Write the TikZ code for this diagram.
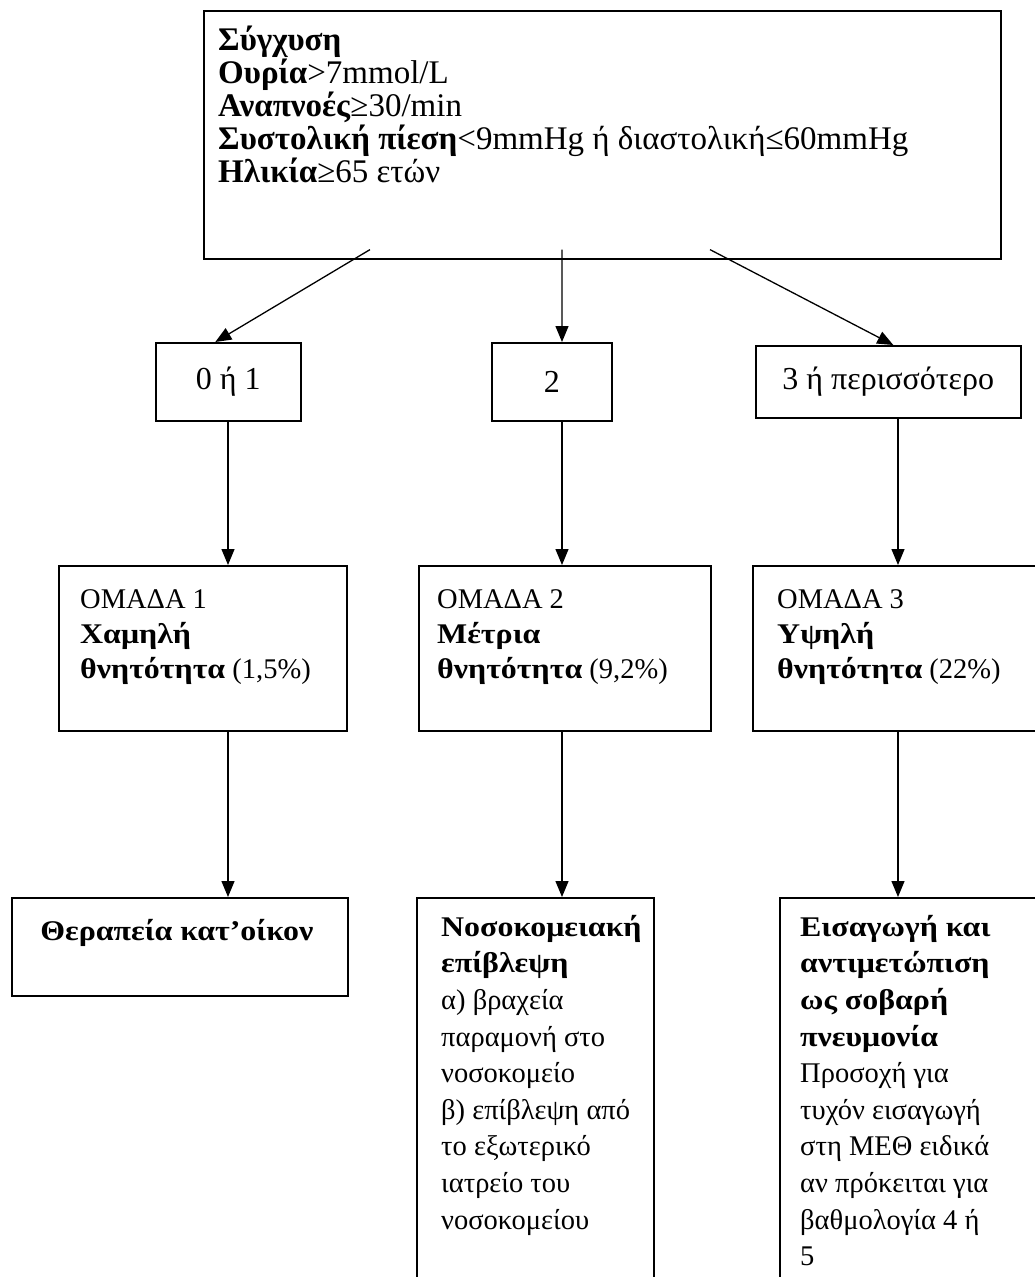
\documentclass[tikz,border=0pt]{standalone}
\usepackage{fontspec}
\setmainfont{Liberation Serif}
\usetikzlibrary{arrows.meta}
\newcommand\bx[1]{\textbf{\addfontfeature{FakeStretch=1.12}#1}}
\tikzset{
  box/.style={draw, line width=1.6bp, inner sep=0pt, anchor=north west},
  txt/.style 2 args={inner sep=0pt, anchor=north west, align=left, font=\fontsize{#1}{#2}\selectfont},
  ctxt/.style={inner sep=0pt, font=\fontsize{32bp}{33bp}\selectfont},
  arr/.style={line width=1.3bp, -{Triangle[length=16bp,width=13bp]}}
}
\begin{document}
\begin{tikzpicture}[x=1bp,y=-1bp]
\useasboundingbox (0,0) rectangle (1035,1277);
\clip (0,0) rectangle (1035,1277);
% boxes
\node[box, minimum width=797bp, minimum height=248bp] (top) at (203,10) {};
\node[box, minimum width=145bp, minimum height=78bp] (b1) at (155,342) {};
\node[box, minimum width=120bp, minimum height=78bp] (b2) at (491,342) {};
\node[box, minimum width=265bp, minimum height=72bp] (b3) at (755,345) {};
\node[box, minimum width=288bp, minimum height=165bp] (g1) at (58,565) {};
\node[box, minimum width=292bp, minimum height=165bp] (g2) at (418,565) {};
\node[box, minimum width=300bp, minimum height=165bp] (g3) at (752,565) {};
\node[box, minimum width=336bp, minimum height=98bp] (o1) at (11,897) {};
\node[box, minimum width=237bp, minimum height=420bp] (o2) at (416,897) {};
\node[box, minimum width=280bp, minimum height=420bp] (o3) at (779,897) {};
% texts
\node[txt={33bp}{33bp}] (ttop) at (218,26) {\textbf{Σύγχυση}\\
\textbf{Ουρία}>7mmol/L\\
\textbf{Αναπνοές}≥30/min\\
\textbf{Συστολική πίεση}<9mmHg ή διαστολική≤60mmHg\\
\textbf{Ηλικία}≥65 ετών};
\node[ctxt] (tb1) at (b1.center) {0 ή 1};
\node[ctxt] (tb2) at (b2.center) {2};
\node[ctxt] (tb3) at (b3.center) {3 ή περισσότερο};
\node[txt={28.5bp}{35bp}] (tg1) at (80,589) {ΟΜΑΔΑ 1\\ \bx{Χαμηλή}\\ \bx{θνητότητα} (1,5\%)};
\node[txt={28.5bp}{35bp}] (tg2) at (437,589) {ΟΜΑΔΑ 2\\ \bx{Μέτρια}\\ \bx{θνητότητα} (9,2\%)};
\node[txt={28.5bp}{35bp}] (tg3) at (777,589) {ΟΜΑΔΑ 3\\ \bx{Υψηλή}\\ \bx{θνητότητα} (22\%)};
\node[txt={28.5bp}{36.6bp}, anchor=north] (to1) at ([xshift=-3bp,yshift=-22bp]o1.north) {\bx{Θεραπεία κατ’οίκον}};
\node[txt={28.5bp}{36.6bp}] (to2) at (441,915) {\bx{Νοσοκομειακή}\\ \bx{επίβλεψη}\\ α) βραχεία\\ παραμονή στο\\ νοσοκομείο\\ β) επίβλεψη από\\ το εξωτερικό\\ ιατρείο του\\ νοσοκομείου};
\node[txt={28.5bp}{36.6bp}] (to3) at (800,915) {\bx{Εισαγωγή και}\\ \bx{αντιμετώπιση}\\ \bx{ως σοβαρή}\\ \bx{πνευμονία}\\ Προσοχή για\\ τυχόν εισαγωγή\\ στη ΜΕΘ ειδικά\\ αν πρόκειται για\\ βαθμολογία 4 ή\\ 5};
% columns
\coordinate (c1) at (228,0);
\coordinate (c2) at (562,0);
\coordinate (c3) at (898,0);
% arrows from top box
\coordinate (s1) at ([xshift=167bp,yshift=10bp]top.south west);
\coordinate (s2) at ([xshift=359bp,yshift=10bp]top.south west);
\coordinate (s3) at ([xshift=507bp,yshift=10bp]top.south west);
\draw[arr] (s1) -- ([xshift=-13bp]b1.north);
\draw[arr] (s2) -- (c2 |- b2.north);
\draw[arr] (s3) -- ([xshift=5bp]b3.north);
\draw[arr] (c1 |- b1.south) -- (c1 |- g1.north);
\draw[arr] (c2 |- b2.south) -- (c2 |- g2.north);
\draw[arr] (c3 |- b3.south) -- (c3 |- g3.north);
\draw[arr] (c1 |- g1.south) -- (c1 |- o1.north);
\draw[arr] (c2 |- g2.south) -- (c2 |- o2.north);
\draw[arr] (c3 |- g3.south) -- (c3 |- o3.north);
\end{tikzpicture}
\end{document}
